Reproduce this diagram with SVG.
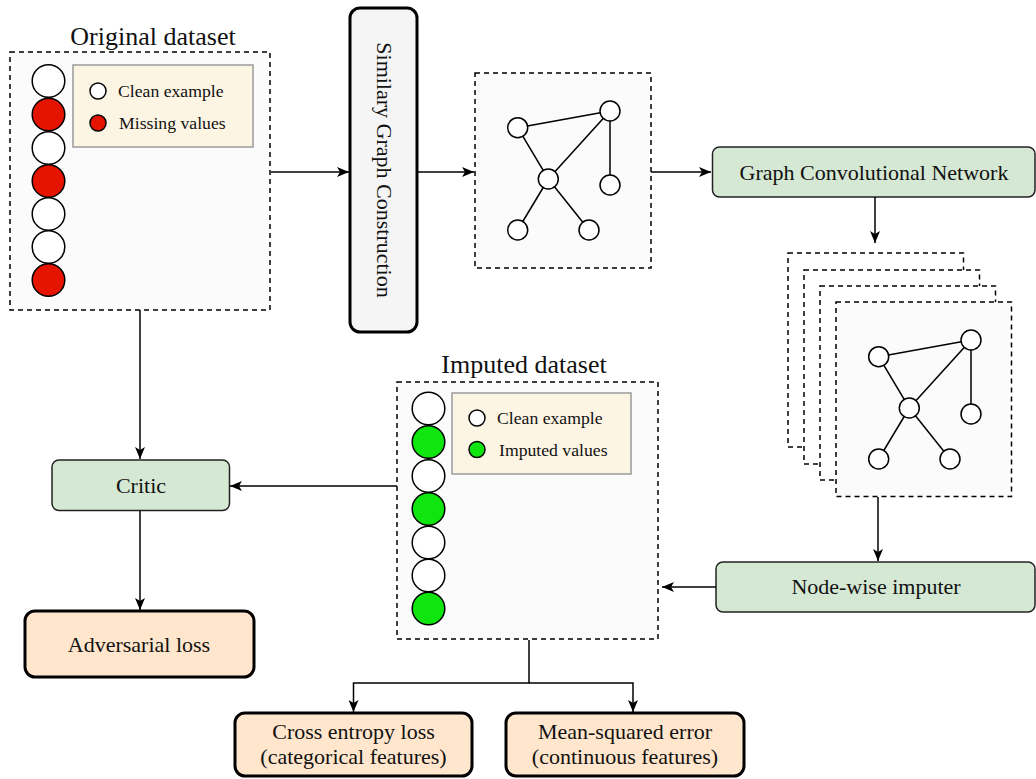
<svg xmlns="http://www.w3.org/2000/svg" width="1036" height="779" viewBox="0 0 1036 779">
<defs>
<marker id="ah" viewBox="0 0 12 10" refX="12" refY="5" markerWidth="12" markerHeight="10" markerUnits="userSpaceOnUse" orient="auto">
<path d="M0,0 L12,5 L0,10 L3,5 Z" fill="#000"/>
</marker>
<style>
text{font-family:"Liberation Serif","Times New Roman",serif;fill:#111}
.ds{fill:#fbfbfb;stroke:#000;stroke-width:1.5;stroke-dasharray:5 4}
.dw{fill:#fff;stroke:#000;stroke-width:1.5;stroke-dasharray:5 4}
.leg{fill:#fdf5e4;stroke:#9a9a9a;stroke-width:1.5}
.cw{fill:#fff;stroke:#000;stroke-width:1.5}
.cr{fill:#e51400;stroke:#000;stroke-width:1.5}
.cg{fill:#0fe60f;stroke:#000;stroke-width:1.5}
.gn{fill:#fff;stroke:#000;stroke-width:1.5}
.ge{stroke:#000;stroke-width:1.5;fill:none}
.green{fill:#d5e8d4;stroke:#222;stroke-width:1.5}
.loss{fill:#ffe6cc;stroke:#000;stroke-width:3}
.conn{fill:none;stroke:#000;stroke-width:1.5}
.t22{font-size:22px;text-anchor:middle}
.t26{font-size:26px;text-anchor:middle}
.t18{font-size:17.7px}
</style>
<g id="graphicon">
<path class="ge" d="M42.7,54.7 L135,38 M42.7,54.7 L73.3,106 L135,38 L135,112 M73.3,106 L42.7,157 M73.3,106 L114,157"/>
<circle class="gn" cx="42.7" cy="54.7" r="10"/>
<circle class="gn" cx="135" cy="38" r="10"/>
<circle class="gn" cx="73.3" cy="106" r="10"/>
<circle class="gn" cx="135" cy="112" r="10"/>
<circle class="gn" cx="42.7" cy="157" r="10"/>
<circle class="gn" cx="114" cy="157" r="10"/>
</g>
</defs>

<g id="original-dataset">
<text class="t26" x="153" y="45">Original dataset</text>
<rect class="ds" x="10" y="52" width="260" height="258"/>
<circle class="cw" cx="48.5" cy="81" r="16.3"/>
<circle class="cr" cx="48.5" cy="114.5" r="16.3"/>
<circle class="cw" cx="48.5" cy="148" r="16.3"/>
<circle class="cr" cx="48.5" cy="181" r="16.3"/>
<circle class="cw" cx="48.5" cy="214" r="16.3"/>
<circle class="cw" cx="48.5" cy="247" r="16.3"/>
<circle class="cr" cx="48.5" cy="280" r="16.3"/>
<rect class="leg" x="73" y="65" width="180" height="82"/>
<circle class="cw" cx="98" cy="91" r="8"/>
<circle class="cr" cx="98" cy="123" r="8"/>
<text class="t18" x="118" y="97">Clean example</text>
<text class="t18" x="119" y="129">Missing values</text>
</g>

<g id="similary-graph-construction">
<rect x="350" y="8" width="67" height="324" rx="10" fill="#f5f5f5" stroke="#000" stroke-width="3"/>
<text class="t22" x="383.5" y="170" transform="rotate(90 383.5 170)" dy="7">Similary Graph Construction</text>
</g>

<g id="similarity-graph">
<rect class="ds" x="475" y="73" width="176" height="195"/>
<use href="#graphicon" x="475" y="73"/>
</g>

<g id="gcn">
<rect class="green" x="712.5" y="147" width="322.5" height="50" rx="7"/>
<text class="t22" x="874" y="180">Graph Convolutional Network</text>
</g>

<g id="graph-stack">
<rect class="dw" x="788" y="253" width="175.5" height="194"/>
<rect class="dw" x="804" y="270" width="175.5" height="194"/>
<rect class="dw" x="820" y="286" width="175.5" height="194"/>
<rect class="ds" x="836" y="302" width="175.5" height="194.5"/>
<use href="#graphicon" x="836" y="302"/>
</g>

<g id="node-wise-imputer">
<rect class="green" x="716" y="562" width="319" height="50" rx="7"/>
<text class="t22" x="876" y="594">Node-wise imputer</text>
</g>

<g id="imputed-dataset">
<text class="t26" x="524" y="373">Imputed dataset</text>
<rect class="ds" x="397" y="382" width="261" height="257"/>
<circle class="cw" cx="428.5" cy="408.5" r="16.3"/>
<circle class="cg" cx="428.5" cy="442" r="16.3"/>
<circle class="cw" cx="428.5" cy="476" r="16.3"/>
<circle class="cg" cx="428.5" cy="509" r="16.3"/>
<circle class="cw" cx="428.5" cy="542.5" r="16.3"/>
<circle class="cw" cx="428.5" cy="575.5" r="16.3"/>
<circle class="cg" cx="428.5" cy="608.5" r="16.3"/>
<rect class="leg" x="452" y="393" width="179" height="81"/>
<circle class="cw" cx="477" cy="418" r="8"/>
<circle class="cg" cx="477" cy="449.5" r="8"/>
<text class="t18" x="497" y="424">Clean example</text>
<text class="t18" x="499" y="456">Imputed values</text>
</g>

<g id="critic">
<rect class="green" x="52" y="460" width="177.5" height="50.5" rx="7"/>
<text class="t22" x="141" y="493">Critic</text>
</g>

<g id="adversarial-loss">
<rect class="loss" x="25" y="611" width="229" height="66" rx="10"/>
<text class="t22" x="139" y="652">Adversarial loss</text>
</g>

<g id="cross-entropy-loss">
<rect class="loss" x="235" y="713" width="237" height="63" rx="10"/>
<text class="t22" x="353.5" y="739">Cross entropy loss</text>
<text class="t22" x="353.5" y="764">(categorical features)</text>
</g>

<g id="mse-loss">
<rect class="loss" x="506" y="713" width="238" height="63" rx="10"/>
<text class="t22" x="625" y="739">Mean-squared error</text>
<text class="t22" x="625" y="764">(continuous features)</text>
</g>

<g id="connectors">
<path class="conn" marker-end="url(#ah)" d="M271,172 H349"/>
<path class="conn" marker-end="url(#ah)" d="M417,172 H474"/>
<path class="conn" marker-end="url(#ah)" d="M651,172 H711"/>
<path class="conn" marker-end="url(#ah)" d="M875,197 V243"/>
<path class="conn" marker-end="url(#ah)" d="M878,497 V561"/>
<path class="conn" marker-end="url(#ah)" d="M716,587 H662"/>
<path class="conn" marker-end="url(#ah)" d="M397,486 H230"/>
<path class="conn" marker-end="url(#ah)" d="M140,310 V459"/>
<path class="conn" marker-end="url(#ah)" d="M140,511 V610"/>
<path class="conn" marker-end="url(#ah)" d="M529,640 V683 H353.5 V712"/>
<path class="conn" marker-end="url(#ah)" d="M529,683 H633 V712"/>
</g>
</svg>
